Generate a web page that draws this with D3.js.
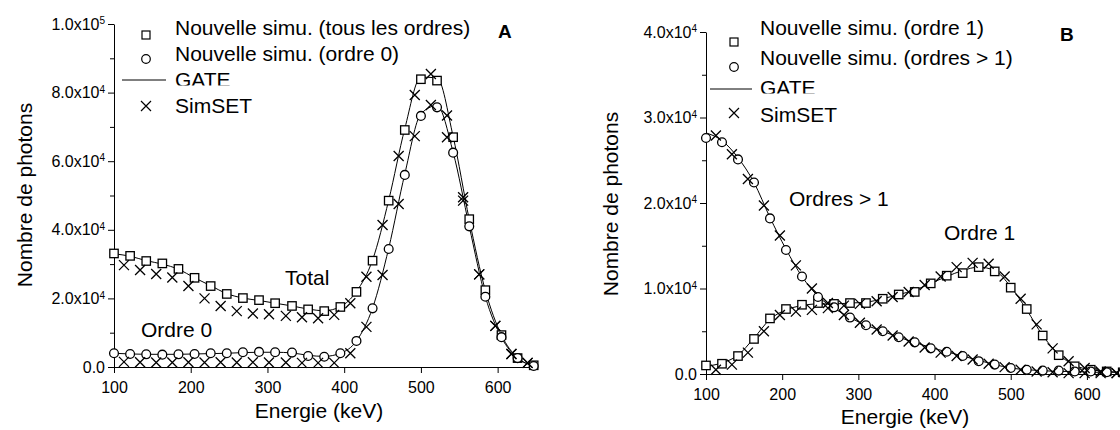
<!DOCTYPE html>
<meta charset="utf-8">
<script src="https://d3js.org/d3.v7.min.js"></script>
<style>
  body { margin: 0; background: #fff; }
  text { font-family: "Liberation Sans", Arial, sans-serif; fill: #000; }
</style>
<div id="chart"></div>
<script>

// bin energies (keV) : new simulation / GATE, and SimSET
var eNew = [100, 121, 142, 163, 184, 205, 226, 247, 268, 289, 310, 332, 353, 374, 395, 416, 437, 458, 479, 500, 521, 542, 563, 584, 605, 626, 647];
var eSim = [113, 134, 155, 176, 197, 218, 239, 260, 281, 302, 324, 345, 366, 387, 408, 429, 450, 471, 492, 513, 534, 555, 576, 597, 618, 639];

// panel A : total and order 0
var aTotNew  = [33100, 32400, 30900, 30200, 28600, 26000, 23600, 21300, 20100, 19500, 18600, 17800, 16800, 16300, 17500, 21900, 31000, 48500, 69100, 83900, 83500, 67000, 43100, 22400, 9300, 2600, 500];
var aOrd0New = [4000, 3800, 3700, 3600, 3700, 3800, 4000, 4000, 4300, 4400, 4300, 4200, 3200, 3000, 4000, 7600, 17100, 34400, 56000, 73200, 75700, 62500, 41000, 20500, 8700, 2600, 300];
var aTotGate  = [33000, 32300, 31000, 30000, 28500, 26000, 23700, 21400, 20100, 19400, 18600, 17800, 16900, 16400, 17600, 22000, 31200, 48600, 69500, 84500, 84300, 67200, 43000, 22300, 9300, 2700, 500];
var aOrd0Gate = [4000, 3800, 3700, 3700, 3700, 3800, 3900, 4000, 4200, 4300, 4300, 4100, 3400, 3100, 4000, 7600, 17200, 34600, 56300, 73800, 76200, 62600, 41000, 20500, 8600, 2600, 300];
var aTotSim  = [29700, 28300, 27100, 26100, 23600, 20000, 17800, 16300, 15600, 15400, 14900, 14500, 14200, 15200, 18600, 26300, 41400, 61500, 79300, 85400, 73300, 49500, 27000, 12000, 3800, 1200];
var aOrd0Sim = [1500, 1400, 1300, 1300, 1400, 1300, 1400, 1300, 1400, 1300, 1300, 1200, 1200, 1200, 4000, 11700, 26800, 47500, 67300, 76400, 67000, 48500, 27000, 12000, 3800, 1200];

// panel B : order 1 and orders > 1
var bOrd1New = [1000, 1200, 2100, 4100, 6500, 7600, 8100, 8300, 8200, 8300, 8300, 8800, 9300, 9600, 10600, 11500, 11800, 12500, 12000, 10100, 7600, 4500, 2200, 900, 500, 300, 200];
var bOrd2New = [27600, 27100, 25100, 22400, 18200, 14500, 11400, 9000, 7800, 6600, 5700, 5000, 4300, 3700, 3000, 2600, 2100, 1500, 1100, 700, 500, 400, 400, 300, 300, 200, 200];
var bOrd1Gate = [900, 1300, 2200, 4200, 6400, 7500, 8000, 8200, 8200, 8300, 8400, 8800, 9300, 9800, 10600, 11400, 12100, 12500, 12100, 10200, 7500, 4500, 2300, 1000, 500, 300, 200];
var bOrd2Gate = [28200, 27300, 25300, 22400, 18300, 14600, 11400, 9100, 7700, 6600, 5700, 5000, 4300, 3700, 3100, 2600, 2100, 1600, 1100, 700, 500, 400, 300, 300, 200, 200, 200];
var bOrd1Sim = [500, 1100, 2500, 5000, 6900, 7300, 7500, 7700, 8000, 8200, 8500, 9000, 9600, 10400, 11400, 12500, 13000, 12900, 11400, 8800, 5800, 3000, 1500, 700, 300, 100];
var bOrd2Sim = [27900, 25700, 22800, 19700, 16200, 12700, 10000, 8300, 6900, 6000, 5200, 4500, 3800, 3100, 2500, 2100, 1700, 1200, 800, 500, 300, 200, 100, 100, 100, 100];

// ticks
var xTicks = [100, 200, 300, 400, 500, 600];
var yTicksA = [0, 20000, 40000, 60000, 80000, 100000];
var yMinorA = [10000, 30000, 50000, 70000, 90000];
var yTicksB = [0, 10000, 20000, 30000, 40000];
var yMinorB = [5000, 15000, 25000, 35000];

var legendA = ["Nouvelle simu. (tous les ordres)", "Nouvelle simu. (ordre 0)", "GATE", "SimSET"];
var legendB = ["Nouvelle simu. (ordre 1)", "Nouvelle simu. (ordres > 1)", "GATE", "SimSET"];

var svg = d3.select("#chart")
  .append("svg")
    .attr("width", 1120)
    .attr("height", 430);

function zip(xs, ys) {
  return xs.map(function(e, i) { return [e, ys[i]]; });
}

// tick label like 2.0x10^4
function sciLabel(sel) {
  sel.each(function(d) {
    var t = d3.select(this).text(null);
    if (d === 0) { t.text("0.0"); return; }
    var p = Math.floor(Math.log10(d));
    t.append("tspan").text((d / Math.pow(10, p)).toFixed(1) + "x10");
    t.append("tspan").attr("dy", "-0.55em").attr("font-size", "10px").text(p);
  });
}

function drawPanel(o) {
  var g = svg.append("g");
  var x = d3.scaleLinear().domain([100, 650]).range(o.xr);
  var y = d3.scaleLinear().domain(o.yd).range(o.yr);

  // x axis
  var xa = g.append("g")
    .attr("transform", "translate(0," + o.yr[0] + ")")
    .call(d3.axisBottom(x).tickValues(xTicks).tickSize(6).tickSizeOuter(0).tickPadding(8.5));
  xa.selectAll("text").attr("font-size", "16px").attr("font-family", null);

  // y axis
  var ya = g.append("g")
    .attr("transform", "translate(" + o.xr[0] + ",0)")
    .call(d3.axisLeft(y).tickValues(o.yTicks).tickSize(6).tickSizeOuter(0).tickPadding(3));
  ya.selectAll("text").attr("font-size", "16px").attr("font-family", null).call(sciLabel);
  g.append("g")
    .attr("transform", "translate(" + o.xr[0] + ",0)")
    .call(d3.axisLeft(y).tickValues(o.yMinor).tickSize(4).tickFormat(""))
    .select(".domain").remove();
  g.selectAll(".domain, .tick line").attr("stroke", "#000").attr("stroke-width", 1);

  var line = d3.line()
    .x(function(d) { return x(d[0]); })
    .y(function(d) { return y(d[1]); })
    .curve(d3.curveMonotoneX);

  // GATE curves
  o.gate.forEach(function(s) {
    g.append("path")
      .datum(zip(eNew, s))
      .attr("d", line)
      .attr("fill", "none")
      .attr("stroke", "#000")
      .attr("stroke-width", 1);
  });

  // new simulation : squares and circles
  g.selectAll(".sq")
    .data(zip(eNew, o.squares))
    .enter().append("rect")
      .attr("x", function(d) { return x(d[0]) - 4.2; })
      .attr("y", function(d) { return y(d[1]) - 4.2; })
      .attr("width", 8.4)
      .attr("height", 8.4)
      .attr("fill", "#fff")
      .attr("stroke", "#000")
      .attr("stroke-width", 1.3);
  g.selectAll(".ci")
    .data(zip(eNew, o.circles))
    .enter().append("circle")
      .attr("cx", function(d) { return x(d[0]); })
      .attr("cy", function(d) { return y(d[1]); })
      .attr("r", 4.4)
      .attr("fill", "#fff")
      .attr("stroke", "#000")
      .attr("stroke-width", 1.3);

  // SimSET crosses
  o.sim.forEach(function(s) {
    g.selectAll(null)
      .data(zip(eSim, s))
      .enter().append("path")
        .attr("transform", function(d) { return "translate(" + x(d[0]) + "," + y(d[1]) + ")"; })
        .attr("d", "M-5,-5L5,5M-5,5L5,-5")
        .attr("stroke", "#000")
        .attr("stroke-width", 1.3);
  });

  // axis titles
  g.append("text")
    .attr("x", o.xTitle[0]).attr("y", o.xTitle[1])
    .attr("text-anchor", "middle")
    .attr("font-size", "21px")
    .text("Energie (keV)");
  g.append("text")
    .attr("transform", "translate(" + o.yTitle[0] + "," + o.yTitle[1] + ") rotate(-90)")
    .attr("text-anchor", "middle")
    .attr("font-size", "21px")
    .text("Nombre de photons");

  // legend
  var L = o.leg;
  g.append("rect")
    .attr("x", L.sx - 4).attr("y", L.sy[0] - 4).attr("width", 8).attr("height", 8)
    .attr("fill", "#fff").attr("stroke", "#000").attr("stroke-width", 1.2);
  g.append("circle")
    .attr("cx", L.sx).attr("cy", L.sy[1]).attr("r", 4.3)
    .attr("fill", "#fff").attr("stroke", "#000").attr("stroke-width", 1.2);
  g.append("line")
    .attr("x1", L.line[0]).attr("x2", L.line[1]).attr("y1", L.sy[2]).attr("y2", L.sy[2])
    .attr("stroke", "#000").attr("stroke-width", 1);
  g.append("path")
    .attr("transform", "translate(" + L.sx + "," + L.sy[3] + ")")
    .attr("d", "M-5,-5L5,5M-5,5L5,-5")
    .attr("stroke", "#000").attr("stroke-width", 1.2);
  o.legText.forEach(function(t, i) {
    g.append("text")
      .attr("x", L.tx).attr("y", L.ty[i])
      .attr("font-size", "21px")
      .text(t);
  });
  // bottom of "GATE" is hidden in the original
  g.append("rect")
    .attr("x", L.tx - 2).attr("y", L.ty[2] - 1.5).attr("width", 80).attr("height", 6)
    .attr("fill", "#fff");

  g.append("text")
    .attr("x", o.tag[1]).attr("y", o.tag[2])
    .attr("font-size", "19px").attr("font-weight", "bold")
    .text(o.tag[0]);

  o.notes.forEach(function(n) {
    g.append("text")
      .attr("x", n[1]).attr("y", n[2])
      .attr("font-size", "21px")
      .text(n[0]);
  });
}

drawPanel({
  xr: [114, 536], yd: [0, 100000], yr: [367, 24],
  yTicks: yTicksA, yMinor: yMinorA,
  gate: [aTotGate, aOrd0Gate],
  squares: aTotNew, circles: aOrd0New,
  sim: [aTotSim, aOrd0Sim],
  xTitle: [319, 418], yTitle: [32, 195],
  leg: { sx: 146, sy: [35, 59, 80, 106], line: [122, 166], tx: 175, ty: [35, 61, 87, 113] },
  legText: legendA,
  tag: ["A", 498, 38],
  notes: [["Total", 285, 285], ["Ordre 0", 141, 337]]
});

drawPanel({
  xr: [706, 1125], yd: [0, 40000], yr: [374, 32],
  yTicks: yTicksB, yMinor: yMinorB,
  gate: [bOrd1Gate, bOrd2Gate],
  squares: bOrd1New, circles: bOrd2New,
  sim: [bOrd1Sim, bOrd2Sim],
  xTitle: [905, 424], yTitle: [618, 204],
  leg: { sx: 734, sy: [42, 67, 89, 113], line: [710, 752], tx: 760, ty: [35, 65, 95, 122] },
  legText: legendB,
  tag: ["B", 1060, 41],
  notes: [["Ordres > 1", 789, 206], ["Ordre 1", 944, 240]]
});

</script>
